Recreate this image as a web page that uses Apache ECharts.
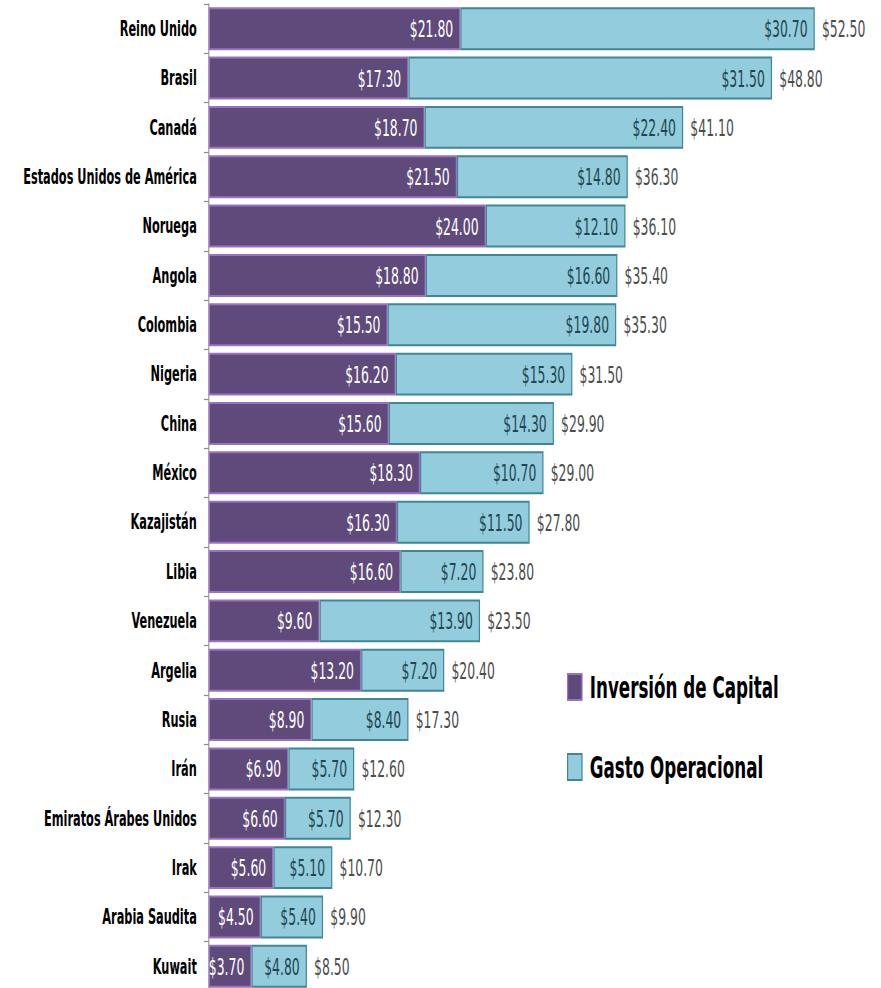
<!DOCTYPE html>
<html>
<head>
<meta charset="utf-8">
<script src="https://cdn.jsdelivr.net/npm/echarts@6/dist/echarts.min.js"></script>
<style>
  html, body { margin: 0; padding: 0; background: #ffffff; overflow: hidden; }
  #wrap { width: 881px; height: 988px; overflow: hidden; position: relative; }
  /* the chart is laid out wide and squeezed horizontally to get a condensed type look */
  #chart { width: 1469px; height: 988px; transform: scaleX(0.6); transform-origin: 0 0; }
</style>
</head>
<body>
<div id="wrap"><div id="chart"></div></div>
<script>
// Países, de mayor a menor gasto total (miles de millones USD)
const paises = [
  'Reino Unido', 'Brasil', 'Canadá', 'Estados Unidos de América', 'Noruega',
  'Angola', 'Colombia', 'Nigeria', 'China', 'México', 'Kazajistán', 'Libia',
  'Venezuela', 'Argelia', 'Rusia', 'Irán', 'Emiratos Árabes Unidos', 'Irak',
  'Arabia Saudita', 'Kuwait'
];
const inversionCapital = [
  21.8, 17.3, 18.7, 21.5, 24.0, 18.8, 15.5, 16.2, 15.6, 18.3, 16.3, 16.6,
  9.6, 13.2, 8.9, 6.9, 6.6, 5.6, 4.5, 3.7
];
const gastoOperacional = [
  30.7, 31.5, 22.4, 14.8, 12.1, 16.6, 19.8, 15.3, 14.3, 10.7, 11.5, 7.2,
  13.9, 7.2, 8.4, 5.7, 5.7, 5.1, 5.4, 4.8
];
const totales = [
  52.5, 48.8, 41.1, 36.3, 36.1, 35.4, 35.3, 31.5, 29.9, 29.0, 27.8, 23.8,
  23.5, 20.4, 17.3, 12.6, 12.3, 10.7, 9.9, 8.5
];

const FONT = '"DejaVu Sans Condensed", "DejaVu Sans", sans-serif';
const money = v => '$' + Number(v).toFixed(2);

const chart = echarts.init(document.getElementById('chart'), null, { renderer: 'svg' });

chart.setOption({
  animation: false,
  backgroundColor: '#ffffff',
  grid: { left: 348, top: 4, width: 1058, height: 987, outerBoundsMode: 'none', containLabel: false },
  legend: {
    orient: 'vertical',
    left: 940,
    top: 665,
    itemGap: 46,
    itemWidth: 24,
    itemHeight: 26,
    icon: 'rect',
    data: ['Inversión de Capital', 'Gasto Operacional'],
    itemStyle: { borderWidth: 2 },
    textStyle: {
      fontFamily: FONT, fontSize: 31, fontWeight: 'bold', color: '#000000',
      lineHeight: 26, padding: [8, 0, 0, 8]
    }
  },
  xAxis: {
    type: 'value',
    min: 0,
    max: 55,
    show: false
  },
  yAxis: {
    type: 'category',
    inverse: true,
    data: paises,
    axisLine: { show: true, lineStyle: { color: '#8c8c8c', width: 1.7 } },
    axisTick: { show: true, length: 8, lineStyle: { color: '#8c8c8c', width: 1.2 } },
    axisLabel: {
      fontFamily: FONT, fontSize: 21, fontWeight: 'bold', color: '#000000', margin: 20
    },
    splitLine: { show: false }
  },
  series: [
    {
      name: 'Inversión de Capital',
      type: 'bar',
      stack: 'total',
      barCategoryGap: '13%',
      data: inversionCapital,
      itemStyle: { color: '#604a7b', borderColor: '#9a72c4', borderWidth: 2 },
      label: {
        show: true, position: 'insideRight', distance: 12,
        formatter: p => money(p.value),
        fontFamily: FONT, fontSize: 23, color: '#ffffff'
      }
    },
    {
      name: 'Gasto Operacional',
      type: 'bar',
      stack: 'total',
      data: gastoOperacional,
      itemStyle: { color: '#93cddd', borderColor: '#3f8795', borderWidth: 2 },
      label: {
        show: true, position: 'insideRight', distance: 12,
        formatter: p => money(p.value),
        fontFamily: FONT, fontSize: 23, color: '#22454f'
      }
    },
    {
      // etiqueta de total al final de cada barra apilada
      name: 'Total',
      type: 'bar',
      stack: 'total',
      data: totales.map(() => 0),
      itemStyle: { color: 'transparent' },
      label: {
        show: true, position: 'right', distance: 12,
        formatter: p => money(totales[p.dataIndex]),
        fontFamily: FONT, fontSize: 23, color: '#4d4d4d'
      },
      tooltip: { show: false }
    }
  ]
});
</script>
</body>
</html>
